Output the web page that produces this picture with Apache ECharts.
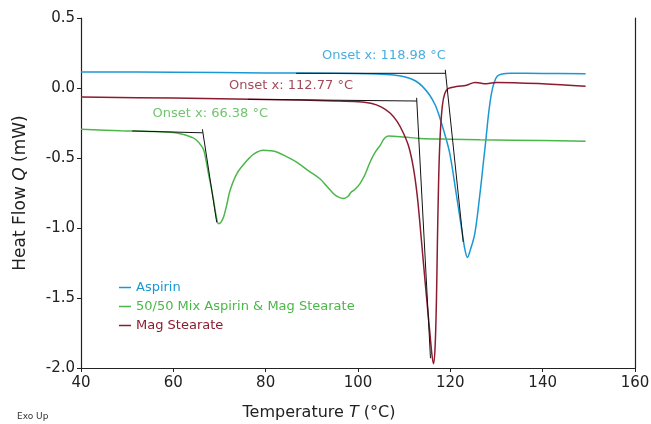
<!DOCTYPE html>
<html>
<head>
<meta charset="utf-8">
<script src="https://cdn.jsdelivr.net/npm/echarts@6/dist/echarts.min.js"></script>
<style>
  html, body { margin: 0; padding: 0; background: #fff; }
  #chart { width: 651px; height: 424px; }
</style>
</head>
<body>
<div id="chart"></div>
<script>
// DSC curves: [temperature °C, heat flow mW]
var aspirin = [
  [40, 0.115], [60, 0.113], [80, 0.108], [95, 0.105], [102, 0.102], [106, 0.097],
  [109, 0.088], [111, 0.072], [112.5, 0.05], [114, 0.01], [115.5, -0.05], [116.7, -0.12],
  [117.7, -0.21], [118.8, -0.33], [119.9, -0.47], [121.3, -0.76], [122.6, -1.04],
  [123.2, -1.16], [123.7, -1.21], [124.3, -1.16], [125.3, -1.04], [126.4, -0.76],
  [127.1, -0.55], [127.7, -0.37], [128.3, -0.18], [128.9, -0.04], [129.5, 0.04],
  [130.2, 0.085], [131.2, 0.10], [133, 0.105], [140, 0.104], [149.3, 0.102]
];
var mix = [
  [40, -0.295], [48.6, -0.305], [55, -0.31], [60, -0.318], [62, -0.33], [63, -0.34],
  [64.2, -0.355], [65.1, -0.375], [66, -0.41], [66.6, -0.445], [67.1, -0.52], [67.6, -0.61],
  [68.2, -0.71], [68.7, -0.80], [69.2, -0.9], [69.8, -0.97], [70.3, -0.96], [70.9, -0.92],
  [71.6, -0.83], [72.3, -0.73], [73.8, -0.61], [75.9, -0.52], [77.5, -0.47], [79.5, -0.445],
  [81, -0.448], [82.4, -0.457], [84.5, -0.49], [86.7, -0.53], [89, -0.585], [91.8, -0.65],
  [93.2, -0.70], [94.7, -0.755], [95.8, -0.78], [96.8, -0.79], [97.8, -0.775], [98.5, -0.745],
  [99.3, -0.725], [100.4, -0.685], [101.5, -0.62], [102.6, -0.53], [103.7, -0.46],
  [104.8, -0.41], [105.7, -0.36], [106.6, -0.343], [110, -0.35], [113.4, -0.36],
  [120, -0.366], [126.4, -0.37], [140, -0.375], [149.3, -0.38]
];
var magStearate = [
  [40, -0.065], [60, -0.072], [80, -0.082], [95, -0.092], [100, -0.098], [103, -0.11],
  [105, -0.135], [107, -0.18], [108.5, -0.24], [109.8, -0.32], [111, -0.42], [112, -0.57],
  [112.8, -0.76], [113.5, -1.0], [114.2, -1.26], [115, -1.55], [115.6, -1.76], [116.0, -1.9],
  [116.35, -1.97], [116.7, -1.85], [117.0, -1.5], [117.2, -1.1], [117.4, -0.76], [117.6, -0.5],
  [117.9, -0.28], [118.3, -0.12], [118.8, -0.04], [119.5, -0.005], [121.3, 0.01], [123.5, 0.02],
  [125.3, 0.04], [126.5, 0.035], [127.8, 0.03], [130, 0.04], [140, 0.03], [149.3, 0.012]
];

// onset tangent constructions (baseline + leading edge)
var aspirinBase = [[86.6, 0.105], [118.98, 0.105]];
var aspirinEdge = [[118.9, 0.13], [122.8, -1.1]];
var magBase = [[76.2, -0.081], [112.77, -0.093]];
var magEdge = [[112.7, -0.07], [115.7, -1.93]];
var mixBase = [[51.1, -0.307], [66.38, -0.32]];
var mixEdge = [[66.3, -0.295], [69.4, -0.96]];

// onset labels: [x, y, text]
var aspirinOnset = [[105.6, 0.23, 'Onset x: 118.98 °C']];
var magOnset = [[85.5, 0.014, 'Onset x: 112.77 °C']];
var mixOnset = [[68.0, -0.186, 'Onset x: 66.38 °C']];

var names = ['Aspirin', '50/50 Mix Aspirin & Mag Stearate', 'Mag Stearate'];
var colors = ['#1a98d5', '#4bb749', '#8b1c2f'];

var font = 'DejaVu Sans';

function curve(name, data, color) {
  return {
    name: name, type: 'line', data: data, symbol: 'none',
    smooth: 0.35,
    lineStyle: { width: 1.5, color: color }, itemStyle: { color: color },
    z: 2
  };
}
function tangent(data) {
  return {
    type: 'line', data: data, symbol: 'none', silent: true,
    lineStyle: { width: 1, color: '#111' }, z: 3
  };
}
function onsetLabel(data, color) {
  return {
    type: 'scatter', data: data, symbolSize: 0, silent: true,
    label: {
      show: true, position: 'inside', color: color, fontFamily: font, fontSize: 13,
      formatter: function (p) { return p.data[2]; }
    }
  };
}

var chart = echarts.init(document.getElementById('chart'));
chart.setOption({
  animation: false,
  grid: { left: 81, right: 16, top: 18, bottom: 56, outerBoundsMode: 'none' },
  legend: {
    orient: 'vertical', left: 114, top: 276,
    icon: 'rect', itemWidth: 12, itemHeight: 1.5, itemGap: 6,
    textStyle: { fontFamily: font, fontSize: 13 },
    data: names.map(function (n, i) {
      return { name: n, textStyle: { color: colors[i] } };
    })
  },
  xAxis: {
    type: 'value', min: 40, max: 160, interval: 20,
    name: 'Temperature {i|T} (°C)', nameLocation: 'middle', nameGap: 37,
    nameTextStyle: {
      fontFamily: font, fontSize: 16, color: '#222', padding: [0, 78, 0, 0],
      rich: { i: { fontStyle: 'italic', fontFamily: font, fontSize: 16, color: '#222' } }
    },
    axisLine: { onZero: false, lineStyle: { color: '#222', width: 1.2 } },
    axisTick: { length: 4, lineStyle: { color: '#222' } },
    axisLabel: { fontFamily: font, fontSize: 15, color: '#222', margin: 8 },
    splitLine: { show: false }
  },
  yAxis: [{
    type: 'value', min: -2, max: 0.5, interval: 0.5,
    name: 'Heat Flow {i|Q} (mW)', nameLocation: 'middle', nameGap: 52,
    nameTextStyle: {
      fontFamily: font, fontSize: 17, color: '#222',
      rich: { i: { fontStyle: 'italic', fontFamily: font, fontSize: 17, color: '#222' } }
    },
    axisLine: { show: true, onZero: false, lineStyle: { color: '#222', width: 1.2 } },
    axisTick: { show: true, length: 4, lineStyle: { color: '#222' } },
    axisLabel: {
      fontFamily: font, fontSize: 15, color: '#222', margin: 6,
      formatter: function (v) { return v.toFixed(1); }
    },
    splitLine: { show: false }
  }, {
    type: 'value', min: -2, max: 0.5, position: 'right',
    axisLine: { show: true, onZero: false, lineStyle: { color: '#222', width: 1.2 } },
    axisTick: { show: false }, axisLabel: { show: false }, splitLine: { show: false }
  }],
  graphic: [{
    type: 'text', left: 17, top: 412,
    style: { text: 'Exo Up', fontFamily: font, fontSize: 9, fill: '#333' }
  }],
  series: [
    curve(names[0], aspirin, colors[0]),
    curve(names[1], mix, colors[1]),
    curve(names[2], magStearate, colors[2]),
    tangent(aspirinBase), tangent(aspirinEdge),
    tangent(magBase), tangent(magEdge),
    tangent(mixBase), tangent(mixEdge),
    onsetLabel(aspirinOnset, colors[0]),
    onsetLabel(magOnset, colors[2]),
    onsetLabel(mixOnset, colors[1])
  ]
});
</script>
</body>
</html>
